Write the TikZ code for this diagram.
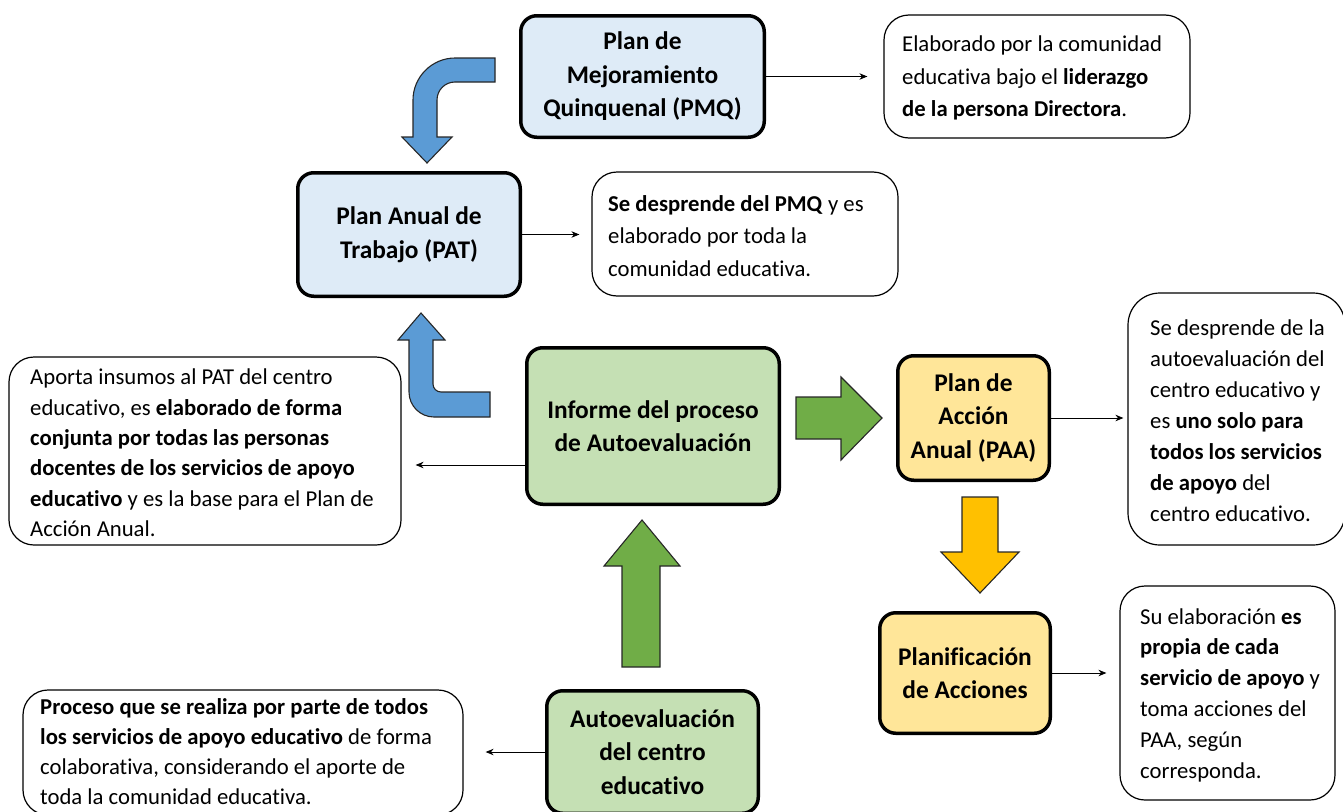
\documentclass[tikz,border=0pt]{standalone}
\usepackage{fontspec}
\setmainfont{Carlito}[Ligatures={NoCommon}]
\usetikzlibrary{arrows.meta,calc}
\definecolor{boxblue}{HTML}{DEEBF7}
\definecolor{boxgreen}{HTML}{C5E0B4}
\definecolor{boxyellow}{HTML}{FFE699}
\definecolor{arrblue}{HTML}{5B9BD5}
\definecolor{arrgreen}{HTML}{70AD47}
\definecolor{arryellow}{HTML}{FFC000}
\begin{document}
\begin{tikzpicture}[x=1pt,y=-1pt,
  mainbox/.style={draw=black, line width=3.5pt, rounded corners=16pt, align=center,
    font=\fontsize{25.4}{33.5}\selectfont\bfseries, inner sep=0pt},
  notebox/.style={draw=black, line width=1.2pt, rounded corners=25pt, inner sep=0pt},
  notetext/.style={align=left, anchor=west, inner sep=0pt, font=\fontsize{22.7}{31}\selectfont},
  conn/.style={line width=0.9pt, -{Stealth[length=8pt,width=6.5pt]}},
  blockarrow/.style={draw=black!85, line width=1.1pt, line join=miter}]
\useasboundingbox (0,0) rectangle (1343,811);
\clip (0,0) rectangle (1343,811);

% main boxes
\node[mainbox, fill=boxblue, minimum width=243.5pt, minimum height=121.5pt] (pmq) at (642.5,76.5)
  {Plan de\\Mejoramiento\\Quinquenal (PMQ)};
\node[mainbox, fill=boxblue, minimum width=222.5pt, minimum height=123.5pt] (pat) at (409,234.5)
  {Plan Anual de\\Trabajo (PAT)};
\node[mainbox, fill=boxgreen, minimum width=252.5pt, minimum height=156.5pt] (informe) at (653,426)
  {Informe del proceso\\de Autoevaluación};
\node[mainbox, fill=boxyellow, minimum width=151.5pt, minimum height=124.5pt] (paa) at (973.5,418)
  {Plan de\\Acción\\Anual (PAA)};
\node[mainbox, fill=boxyellow, minimum width=170.5pt, minimum height=120.5pt] (planif) at (965,673)
  {Planificación\\de Acciones};
\node[mainbox, fill=boxgreen, minimum width=211.5pt, minimum height=122.5pt] (auto) at (652.5,752)
  {Autoevaluación\\del centro\\educativo};

% note boxes
\node[notebox, minimum width=306pt, minimum height=123pt] (note1) at (1037,76.5) {};
\node[notetext, font=\fontsize{22.7}{32.5}\selectfont] (note1t) at (902,78)
  {Elaborado por la comunidad\\educativa bajo el \textbf{liderazgo}\\\textbf{de la persona Directora}.};
\node[notebox, minimum width=306pt, minimum height=124pt] (note2) at (745,234) {};
\node[notetext, font=\fontsize{22.7}{32.5}\selectfont] (note2t) at (608,236)
  {\textbf{Se desprende del PMQ} y es\\elaborado por toda la\\comunidad educativa.};
\node[notebox, minimum width=392pt, minimum height=188pt] (note3) at (205,451) {};
\node[notetext, font=\fontsize{22.7}{30.4}\selectfont] (note3t) at (30,453)
  {Aporta insumos al PAT del centro\\educativo, es \textbf{elaborado de forma}\\\textbf{conjunta por todas las personas}\\\textbf{docentes de los servicios de apoyo}\\\textbf{educativo} y es la base para el Plan de\\Acción Anual.};
\node[notebox, rounded corners=32pt, minimum width=217pt, minimum height=252pt] (note4) at (1236.5,419) {};
\node[notetext] (note4t) at (1150,421)
  {Se desprende de la\\autoevaluación del\\centro educativo y\\es \textbf{uno solo para}\\\textbf{todos los servicios}\\\textbf{de apoyo} del\\centro educativo.};
\node[notebox, minimum width=215pt, minimum height=214pt] (note5) at (1227.5,693) {};
\node[notetext, font=\fontsize{22.7}{30.8}\selectfont] (note5t) at (1140,695)
  {Su elaboración \textbf{es}\\\textbf{propia de cada}\\\textbf{servicio de apoyo} y\\toma acciones del\\PAA, según\\corresponda.};
\node[notebox, minimum width=440pt, minimum height=125pt] (note6) at (243,752.5) {};
\node[notetext, font=\fontsize{22.7}{30}\selectfont] (note6t) at (40,752)
  {\textbf{Proceso que se realiza por parte de todos}\\\textbf{los servicios de apoyo educativo} de forma\\colaborativa, considerando el aporte de\\toda la comunidad educativa.};

% thin connectors
\draw[conn, shorten >=16pt] (pmq.east) -- (pmq.east -| note1.west);
\draw[conn, shorten >=12pt] (pat.east) -- (pat.east -| note2.west);
\draw[conn, shorten >=14pt] ([yshift=-39pt]informe.west) -- ([yshift=-39pt]informe.west -| note3.east);
\draw[conn, shorten >=4pt] (paa.east) -- (paa.east -| note4.west);
\draw[conn, shorten >=13pt] (planif.east) -- (planif.east -| note5.west);
\draw[conn, shorten >=22pt] (auto.west) -- (auto.west -| note6.east);

% block arrows
\draw[blockarrow, fill=arrblue] (495,58) -- (455,58) .. controls (432,58) and (413,77) .. (413,100)
  -- (413,137) -- (402,137) -- (427,163) -- (452,137) -- (437,137) -- (437,100)
  .. controls (437,90) and (445,82) .. (455,82) -- (495,82) -- cycle;
\draw[blockarrow, fill=arrblue] (421,313) -- (445,340) -- (433,340) -- (433,384)
  .. controls (433,388.4) and (436.6,392) .. (441,392) -- (490,392) -- (490,417) -- (434,417)
  .. controls (420.2,417) and (409,405.8) .. (409,392) -- (409,340) -- (398,340) -- cycle;
\draw[blockarrow, fill=arrgreen] (796,397) -- (841,397) -- (841,377) -- (882,418) -- (841,460)
  -- (841,439) -- (796,439) -- cycle;
\draw[blockarrow, fill=arryellow] (962,497) -- (998,497) -- (998,552) -- (1019,552) -- (980,593)
  -- (941,552) -- (962,552) -- cycle;
\draw[blockarrow, fill=arrgreen] (642,520) -- (680,566) -- (660,566) -- (660,667) -- (622,667)
  -- (622,566) -- (604,566) -- cycle;
\end{tikzpicture}
\end{document}
